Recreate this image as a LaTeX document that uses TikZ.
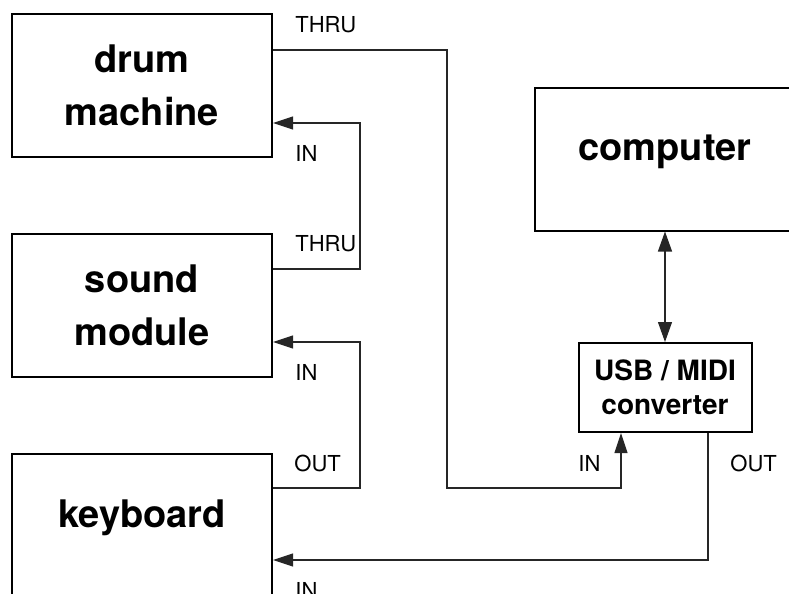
\documentclass[tikz,border=0pt]{standalone}
\usepackage{fontspec}
\setmainfont{TeX Gyre Heros}
\usetikzlibrary{arrows.meta,positioning}

\begin{document}
\begin{tikzpicture}[
                x=0.5pt, y=-0.5pt,
                node distance=110pt,
                on grid,
                unit/.style={draw, line width=1pt, minimum width=130pt,
                    minimum height=71.5pt, align=center,
                    font=\fontsize{19}{26.5}\selectfont\bfseries},
                single/.style={text height=13.7pt, text depth=12pt},
                wire/.style={draw=black!85, line width=0.6pt},
                tip/.style={-{Triangle[length=10pt,width=6.5pt]}},
                port/.style={anchor=west, inner sep=0pt,
                    font=\fontsize{11}{13}\selectfont}]
            \useasboundingbox (0,0) rectangle (789,594);
            \clip (0,0) rectangle (789,594);

            \node[unit]             (drum)  at (142,85.5)           {drum\\machine};
            \node[unit]             (sound) [below=of drum]         {sound\\module};
            \node[unit,single]      (keys)  [below=of sound]        {keyboard};
            \node[unit,single]      (comp)  at (665,159)            {computer};
            \node[unit,minimum width=86.5pt,minimum height=44.5pt,
                font=\fontsize{14}{17}\selectfont\bfseries]
                                    (conv)  [below=114.25pt of comp] {USB / MIDI\\converter};

            \node[port] (thru1) at (295,25)  {THRU};
            \node[port] (in1)   at (295,153) {IN};
            \node[port] (thru2) at (295,244) {THRU};
            \node[port] (in2)   at (295,372) {IN};
            \node[port] (out1)  at (294,463) {OUT};
            \node[port] (in3)   at (295,590) {IN};
            \node[port] (in4)   at (578,463) {IN};
            \node[port] (out2)  at (730,463) {OUT};

            \coordinate (bend1) at (447,488);
            \coordinate (bend2) at (360,123);
            \coordinate (bend3) at (360,342);

            \draw[wire,tip] (drum.east |- 0,50) -| (bend1) -| (conv.south -| 621,0);
            \draw[wire,tip] (sound.east |- 0,269) -| (bend2) -- (drum.east |- bend2);
            \draw[wire,tip] (keys.east |- 0,488) -| (bend3) -- (sound.east |- bend3);
            \draw[wire,tip] (conv.south -| 708,0) |- (keys.east |- 0,560);
            \draw[wire,{Triangle[length=10pt,width=7pt]}-{Triangle[length=10pt,width=7pt]}]
                (comp) -- (conv);
        \end{tikzpicture}
\end{document}
